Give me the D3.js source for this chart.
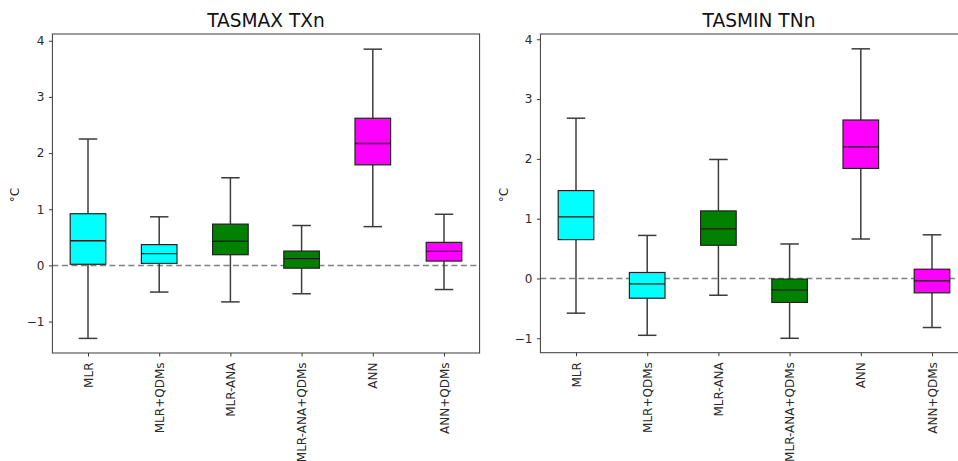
<!DOCTYPE html>
<html>
<head>
<meta charset="utf-8">
<script src="https://cdn.jsdelivr.net/npm/d3@7"></script>
<style>
  html, body { margin: 0; padding: 0; background: #fff; }
  svg { display: block; font-family: "DejaVu Sans", sans-serif; }
</style>
</head>
<body>
<svg id="chart" width="958" height="461"></svg>
<script>
// Downscaling methods on the x axis
const categories = ["MLR", "MLR+QDMs", "MLR-ANA", "MLR-ANA+QDMs", "ANN", "ANN+QDMs"];
const boxColors = ["#00ffff", "#00ffff", "#008000", "#008000", "#ff00ff", "#ff00ff"];

// TASMAX TXn box statistics (°C)
const txnLow  = [-1.30, -0.475, -0.65, -0.505, 0.69, -0.43];
const txnQ1   = [0.02, 0.035, 0.19, -0.05, 1.79, 0.077];
const txnMed  = [0.44, 0.21, 0.43, 0.12, 2.17, 0.25];
const txnQ3   = [0.92, 0.37, 0.735, 0.255, 2.62, 0.41];
const txnHigh = [2.25, 0.865, 1.56, 0.71, 3.85, 0.91];

// TASMIN TNn box statistics (°C)
const tnnLow  = [-0.58, -0.95, -0.28, -1.00, 0.66, -0.82];
const tnnQ1   = [0.65, -0.33, 0.555, -0.40, 1.84, -0.24];
const tnnMed  = [1.03, -0.09, 0.83, -0.19, 2.20, -0.04];
const tnnQ3   = [1.47, 0.10, 1.13, -0.01, 2.65, 0.155];
const tnnHigh = [2.68, 0.72, 1.99, 0.577, 3.84, 0.73];

const yTicks = [-1, 0, 1, 2, 3, 4];

const svg = d3.select("#chart");
svg.append("rect").attr("width", 958).attr("height", 461).attr("fill", "#fff");

const panels = [
  { title: "TASMAX TXn", titleX: 266, left: 52.4, right: 479.6, top: 34, bottom: 353,
    yDomain: [-1.56, 4.12], ylabelX: 15,
    low: txnLow, q1: txnQ1, med: txnMed, q3: txnQ3, high: txnHigh },
  { title: "TASMIN TNn", titleX: 759, left: 540.4, right: 967.6, top: 34, bottom: 352.7,
    yDomain: [-1.241, 4.088], ylabelX: 504,
    low: tnnLow, q1: tnnQ1, med: tnnMed, q3: tnnQ3, high: tnnHigh }
];

const axisColor = "#3a3a3a";
const lineColor = "#3c3c3c";

panels.forEach(p => {
  const g = svg.append("g");
  const x = d3.scalePoint().domain(categories).range([p.left, p.right]).padding(0.5);
  const y = d3.scaleLinear().domain(p.yDomain).range([p.bottom, p.top]);
  const step = x.step();
  const boxW = step * 0.5;
  const capW = step * 0.26;

  const rows = categories.map((c, i) => ({
    cat: c, color: boxColors[i],
    low: p.low[i], q1: p.q1[i], med: p.med[i], q3: p.q3[i], high: p.high[i]
  }));

  // zero reference line
  g.append("line")
    .attr("x1", p.left).attr("x2", p.right)
    .attr("y1", y(0)).attr("y2", y(0))
    .attr("stroke", "#808080").attr("stroke-width", 1.5)
    .attr("stroke-dasharray", "6,3.5");

  const b = g.selectAll("g.box").data(rows).join("g").attr("class", "box");

  // whiskers
  b.append("line")
    .attr("x1", d => x(d.cat)).attr("x2", d => x(d.cat))
    .attr("y1", d => y(d.low)).attr("y2", d => y(d.q1))
    .attr("stroke", lineColor).attr("stroke-width", 1.5);
  b.append("line")
    .attr("x1", d => x(d.cat)).attr("x2", d => x(d.cat))
    .attr("y1", d => y(d.q3)).attr("y2", d => y(d.high))
    .attr("stroke", lineColor).attr("stroke-width", 1.5);
  // caps
  b.append("line")
    .attr("x1", d => x(d.cat) - capW / 2).attr("x2", d => x(d.cat) + capW / 2)
    .attr("y1", d => y(d.low)).attr("y2", d => y(d.low))
    .attr("stroke", lineColor).attr("stroke-width", 1.5);
  b.append("line")
    .attr("x1", d => x(d.cat) - capW / 2).attr("x2", d => x(d.cat) + capW / 2)
    .attr("y1", d => y(d.high)).attr("y2", d => y(d.high))
    .attr("stroke", lineColor).attr("stroke-width", 1.5);
  // boxes
  b.append("rect")
    .attr("x", d => x(d.cat) - boxW / 2).attr("width", boxW)
    .attr("y", d => y(d.q3)).attr("height", d => y(d.q1) - y(d.q3))
    .attr("fill", d => d.color)
    .attr("stroke", "#222").attr("stroke-width", 1.2);
  // medians
  b.append("line")
    .attr("x1", d => x(d.cat) - boxW / 2).attr("x2", d => x(d.cat) + boxW / 2)
    .attr("y1", d => y(d.med)).attr("y2", d => y(d.med))
    .attr("stroke", "#1e1e1e").attr("stroke-width", 1.4);

  // axes
  const yAxis = g.append("g").attr("transform", `translate(${p.left},0)`)
    .call(d3.axisLeft(y).tickValues(yTicks).tickFormat(d => d < 0 ? "\u2212" + Math.abs(d) : d)
      .tickSize(3.5).tickPadding(4.5));
  const xAxis = g.append("g").attr("transform", `translate(0,${p.bottom})`)
    .call(d3.axisBottom(x).tickSize(3.5).tickPadding(0));
  [yAxis, xAxis].forEach(a => {
    a.select(".domain").remove();
    a.selectAll(".tick line").attr("stroke", axisColor).attr("stroke-width", 1);
    a.selectAll(".tick text").attr("fill", "#2a2a2a").attr("font-size", 12)
      .attr("font-family", "DejaVu Sans, sans-serif");
  });
  xAxis.selectAll(".tick text")
    .attr("transform", "rotate(-90)")
    .attr("text-anchor", "end")
    .attr("dominant-baseline", "central")
    .attr("x", -9.5).attr("y", 0).attr("dy", null);

  // frame
  g.append("rect")
    .attr("x", p.left).attr("y", p.top)
    .attr("width", p.right - p.left).attr("height", p.bottom - p.top)
    .attr("fill", "none").attr("stroke", axisColor).attr("stroke-width", 1);

  // title
  g.append("text")
    .attr("x", p.titleX).attr("y", 27)
    .attr("text-anchor", "middle")
    .attr("font-size", 18.6).attr("fill", "#111")
    .text(p.title);

  // y label
  g.append("text")
    .attr("transform", `translate(${p.ylabelX},195) rotate(-90)`)
    .attr("text-anchor", "middle").attr("dominant-baseline", "central")
    .attr("font-size", 12).attr("fill", "#2a2a2a")
    .text("°C");
});
</script>
</body>
</html>
